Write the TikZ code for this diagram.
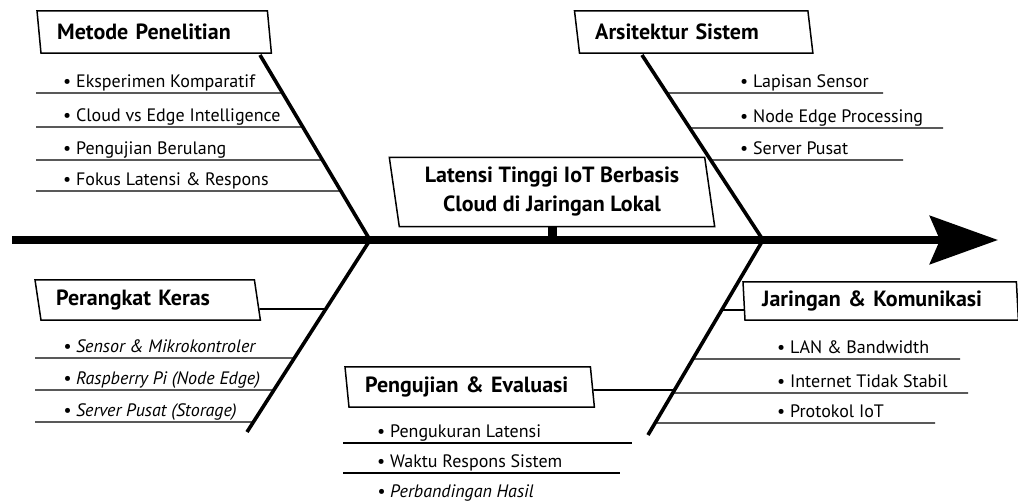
\documentclass[tikz,border=0pt]{standalone}
\usepackage{fontspec}
\setmainfont{PT Sans}
\usetikzlibrary{arrows.meta}
\tikzset{
  spine/.style={line width=8pt, -{Stealth[length=68pt, width=48pt, inset=10pt]}},
  bone/.style={line width=3.6pt},
  link/.style={line width=1.8pt},
  twig/.style={line width=1.3pt},
  frame/.style={line width=1.5pt, line join=miter},
  effectbox/.style={minimum width=315pt, minimum height=69pt,
    align=center, font=\fontsize{22}{29}\selectfont\bfseries},
  headbox/.style={anchor=west, inner xsep=18pt, text width=#1,
    align=left, minimum height=42pt, font=\fontsize{22}{26}\selectfont\bfseries},
  item/.style={inner sep=0pt, anchor=base west, font=\fontsize{18}{22}\selectfont},
  itemit/.style={item, font=\fontsize{18}{22}\selectfont\itshape},
}
% slanted frame round a node: top edge pushed left, bottom edge pushed right
\newcommand\skewframe[2]{%
  \draw[frame] ([xshift=-#2]#1.north west) -- ([xshift=-#2]#1.north east)
    -- ([xshift=#2]#1.south east) -- ([xshift=#2]#1.south west) -- cycle;}

\begin{document}
\begin{tikzpicture}[x=1pt, y=-1pt]
 \useasboundingbox (0,0) rectangle (1018,501);

 % spine and effect
 \coordinate (tail) at (12,240);
 \coordinate (tip)  at (998,240);
 \coordinate (j1)   at (370,240);
 \coordinate (j2)   at (763,240);
 \node[effectbox] (fx) at (552,192) {Latensi Tinggi IoT Berbasis\\Cloud di Jaringan Lokal};
 \skewframe{fx}{5pt}
 \draw[line width=9pt] (fx.south) -- (fx.south |- j1);
 \draw[spine] (tail) -- (tip);

 % category boxes
 \node[headbox=194pt] (mt) at (39,32) {Metode Penelitian};
 \node[headbox=197pt] (ar) at (577,32) {Arsitektur Sistem};
 \node[headbox=183pt, minimum height=40pt] (hw) at (38,300) {Perangkat Keras};
 \node[headbox=209pt, minimum height=40pt] (ev) at (347,387) {Pengujian \& Evaluasi};
 \node[headbox=237pt, minimum height=38pt] (nw) at (744,301) {Jaringan \& Komunikasi};
 \skewframe{mt}{2pt}
 \skewframe{ar}{2.5pt}
 \skewframe{hw}{3pt}
 \skewframe{ev}{2pt}
 \skewframe{nw}{1pt}

 % bones
 \coordinate (mt0) at (260,55);
 \coordinate (ar0) at (642,55);
 \coordinate (hw0) at (247,432);
 \coordinate (nw0) at (648,435);
 \draw[bone] (mt0) -- (j1);
 \draw[bone] (j1) -- (hw0);
 \draw[bone] (ar0) -- (j2);
 \draw[bone] (j2) -- (nw0);

 % box links to lower bones
 \coordinate (hwy) at (300,309);
 \coordinate (hwl) at ([xshift=2pt]hw.east |- hwy);
 \draw[link] (hwl) -- (intersection of hwl--hwy and j1--hw0);
 \coordinate (evy) at (700,390);
 \coordinate (evl) at ([xshift=1pt]ev.east |- evy);
 \draw[link] (evl) -- (intersection of evl--evy and j2--nw0);
 \coordinate (nwy) at (600,310);
 \coordinate (nwl) at (nw.west |- nwy);
 \draw[link] (intersection of nwy--nwl and j2--nw0) -- (nwl);

 % Metode Penelitian
 \foreach \u in {93,127,160,191} {
   \coordinate (a) at (36,\u);
   \coordinate (b) at (500,\u);
   \draw[twig] (a) -- (intersection of a--b and mt0--j1);
 }
 \foreach \b/\txt [count=\i] in {87/Eksperimen Komparatif, 121/Cloud vs Edge Intelligence,
     154/Pengujian Berulang, 185/Fokus Latensi \& Respons}
   \node[item] (mt-\i) at (63,\b) {\textbullet\ \txt};

 % Arsitektur Sistem
 \foreach \u/\r in {93/883, 128/943, 160/903} {
   \coordinate (a) at (600,\u);
   \coordinate (b) at (\r,\u);
   \draw[twig] (intersection of a--b and ar0--j2) -- (b);
 }
 \foreach \b/\txt [count=\i] in {87/Lapisan Sensor, 122/Node Edge Processing, 154/Server Pusat}
   \node[item] (ar-\i) at (740,\b) {\textbullet\ \txt};

 % Perangkat Keras
 \foreach \u in {358,390,422} {
   \coordinate (a) at (35,\u);
   \coordinate (b) at (500,\u);
   \draw[twig] (a) -- (intersection of a--b and j1--hw0);
 }
 \foreach \b/\txt [count=\i] in {352/Sensor \& Mikrokontroler, 384/Raspberry Pi (Node Edge),
     416/Server Pusat (Storage)}
   \node[itemit] (hw-\i) at (63,\b) {\textbullet\ \txt};

 % Jaringan & Komunikasi
 \foreach \u/\r in {359/960, 393/968, 423/935} {
   \coordinate (a) at (600,\u);
   \coordinate (b) at (\r,\u);
   \draw[twig] (intersection of a--b and j2--nw0) -- (b);
 }
 \foreach \b/\txt [count=\i] in {353/LAN \& Bandwidth, 387/Internet Tidak Stabil, 417/Protokol IoT}
   \node[item] (nw-\i) at (777,\b) {\textbullet\ \txt};

 % Pengujian & Evaluasi
 \foreach \u/\r in {443/632, 473/620}
   \draw[twig] (343,\u) -- (\r,\u);
 \node[item] (ev-1) at (377,437) {\textbullet\ Pengukuran Latensi};
 \node[item] (ev-2) at (377,467) {\textbullet\ Waktu Respons Sistem};
 \node[itemit] (ev-3) at (377,497) {\textbullet\ Perbandingan Hasil};
\end{tikzpicture}
\end{document}
